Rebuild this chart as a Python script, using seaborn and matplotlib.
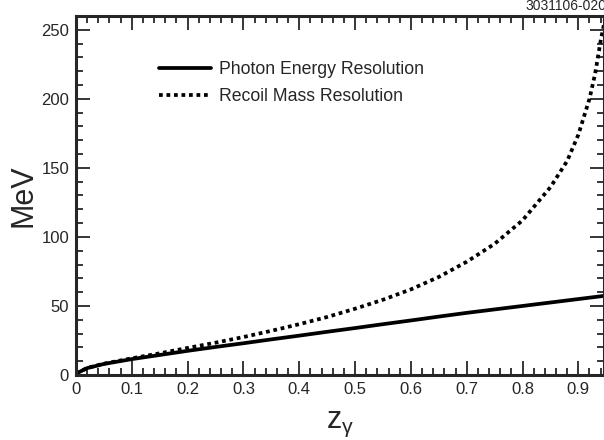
import numpy as np
import pandas as pd
import matplotlib
matplotlib.use("Agg")
import matplotlib.pyplot as plt
import seaborn as sns
from matplotlib.ticker import MultipleLocator

# Data
x_photon = [0, 0.01, 0.02, 0.05, 0.1, 0.15, 0.2, 0.25, 0.3, 0.35, 0.4, 0.45, 0.5, 0.55,
            0.6, 0.65, 0.7, 0.75, 0.8, 0.85, 0.88, 0.9, 0.92, 0.93, 0.94, 0.95]
y_photon = [1, 3, 5, 8, 11.5, 14.5, 17.5, 20.3, 23, 25.8, 28.5, 31.3, 34, 36.8,
            39.5, 42.3, 45, 47.5, 50, 52.5, 54, 55, 56, 56.5, 57, 57.5]
x_recoil = [0, 0.01, 0.02, 0.05, 0.1, 0.15, 0.2, 0.25, 0.3, 0.35, 0.4, 0.45, 0.5, 0.55,
            0.6, 0.65, 0.7, 0.75, 0.8, 0.85, 0.88, 0.9, 0.92, 0.93, 0.94, 0.95]
y_recoil = [1, 3, 5.1, 8.2, 12.1, 15.7, 19.6, 23.4, 27.5, 32, 36.8, 42, 48, 54.5,
            62, 71, 82, 95, 112, 136, 155, 174, 200, 218, 242, 262]
labels = ["Photon Energy Resolution", "Recoil Mass Resolution"]

df = pd.concat([
    pd.DataFrame({"z": x_photon, "MeV": y_photon, "series": labels[0]}),
    pd.DataFrame({"z": x_recoil, "MeV": y_recoil, "series": labels[1]}),
])

sns.set_style("ticks")
plt.rcParams["font.family"] = ["Liberation Sans", "DejaVu Sans"]
plt.rcParams["mathtext.fontset"] = "custom"
plt.rcParams["mathtext.rm"] = "Liberation Sans"
plt.rcParams["mathtext.it"] = "Liberation Sans"

fig = plt.figure(figsize=(6.04, 4.4), dpi=100)
ax = fig.add_axes([76/604, 1 - 375/440, 1 - 76/604, (375 - 16)/440])

sns.lineplot(data=df, x="z", y="MeV", hue="series", style="series",
             palette=["black", "black"], dashes={labels[0]: "", labels[1]: (1, 1)},
             linewidth=2.7, ax=ax, sort=False, legend=True)

ax.set_xlim(0, 0.946)
ax.set_ylim(0, 260)
ax.xaxis.set_minor_locator(MultipleLocator(0.02))
ax.yaxis.set_major_locator(MultipleLocator(50))
ax.yaxis.set_minor_locator(MultipleLocator(10))
ax.set_xticks(np.arange(0, 0.95, 0.1))
ax.set_xticklabels(["0", "0.1", "0.2", "0.3", "0.4", "0.5", "0.6", "0.7", "0.8", "0.9"])
ax.tick_params(which="both", direction="in", top=True, right=True, labelsize=12, width=1.3)
ax.tick_params(which="major", length=10, pad=5)
ax.tick_params(which="minor", length=5)
for s in ax.spines.values():
    s.set_linewidth(2.2)

ax.set_xlabel(r"z$_{\gamma}$", fontsize=22, labelpad=9)
ax.set_ylabel("MeV", fontsize=22, labelpad=2)

leg = ax.legend(frameon=False, loc="upper left", bbox_to_anchor=(0.158, 0.875),
                fontsize=12.7, handlelength=2.9, handletextpad=0.5,
                labelspacing=0.6, borderpad=0, borderaxespad=0)
for line in leg.get_lines():
    line.set_linewidth(2.7)

fig.text(525/604, 1 - 6/440, "3031106-020", fontsize=10, ha="left", va="center")

fig.savefig("out.png", dpi=100)
